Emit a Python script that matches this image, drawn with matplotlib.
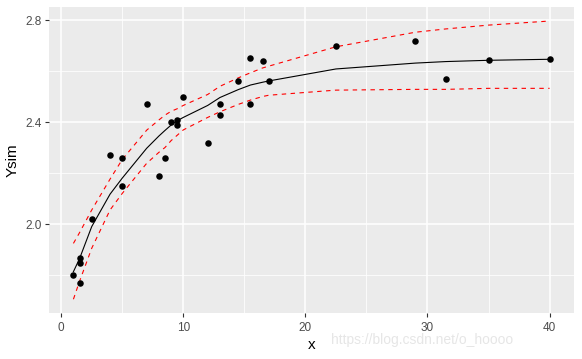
import matplotlib
matplotlib.use("Agg")
import matplotlib.pyplot as plt
import numpy as np

# observed data
x_obs = [1, 1.5, 1.5, 1.5, 2.5, 4, 5, 5, 7, 8, 8.5, 9, 9.5, 9.5, 10, 12, 13, 13,
         14.5, 15.5, 15.5, 16.5, 17, 22.5, 29, 31.5, 35, 40]
y_obs = [1.800, 1.865, 1.846, 1.767, 2.018, 2.269, 2.258, 2.148, 2.469, 2.187,
         2.258, 2.399, 2.407, 2.387, 2.497, 2.316, 2.469, 2.426, 2.560, 2.650,
         2.469, 2.638, 2.560, 2.697, 2.716, 2.567, 2.642, 2.646]

# fitted curve and bands at unique x
x_fit = [1, 1.5, 2.5, 4, 5, 7, 8, 8.5, 9, 9.5, 10, 12, 13, 14.5, 15.5, 16.5, 17,
         22.5, 29, 31.5, 35, 40]
y_fit = [1.813, 1.864, 1.990, 2.117, 2.180, 2.297, 2.345, 2.367, 2.388, 2.405,
         2.418, 2.465, 2.496, 2.527, 2.545, 2.556, 2.561, 2.608, 2.631, 2.637,
         2.642, 2.646]
y_upper = [1.924, 1.966, 2.055, 2.176, 2.253, 2.368, 2.408, 2.427, 2.442, 2.452,
           2.465, 2.508, 2.540, 2.573, 2.593, 2.612, 2.619, 2.695, 2.752, 2.765,
           2.780, 2.796]
y_lower = [1.705, 1.775, 1.905, 2.055, 2.120, 2.238, 2.281, 2.300, 2.327, 2.348,
           2.369, 2.418, 2.440, 2.469, 2.486, 2.500, 2.505, 2.525, 2.528, 2.528,
           2.532, 2.532]

x_ticks = [0, 10, 20, 30, 40]
y_ticks = [2.0, 2.4, 2.8]
y_tick_labels = ["2.0", "2.4", "2.8"]

plt.rcParams['font.family'] = ['Liberation Sans', 'DejaVu Sans']

fig = plt.figure(figsize=(5.82, 3.59), dpi=100)
ax = fig.add_axes([49/582, 46/359, 525/582, 306/359])
ax.set_facecolor('#EBEBEB')

ax.set_xlim(-1.0, 42.0)
ax.set_ylim(1.651, 2.851)

ax.set_xticks(x_ticks)
ax.set_xticks([5, 15, 25, 35], minor=True)
ax.set_yticks(y_ticks)
ax.set_yticklabels(y_tick_labels)
ax.set_yticks([1.8, 2.2, 2.6], minor=True)

ax.grid(which='major', color='white', linewidth=1.1)
ax.grid(which='minor', color='white', linewidth=0.55)
ax.set_axisbelow(True)
for s in ax.spines.values():
    s.set_visible(False)

ax.tick_params(which='major', length=3, width=0.8, color='#333333',
               labelcolor='#4D4D4D', labelsize=8.5)
ax.tick_params(axis='x', which='major', pad=3.5)
ax.tick_params(axis='y', which='major', pad=2)
ax.tick_params(which='minor', length=0)

ax.plot(x_fit, y_upper, color='red', lw=0.8, dashes=(4, 4))
ax.plot(x_fit, y_lower, color='red', lw=0.8, dashes=(4, 4))
ax.plot(x_fit, y_fit, color='black', lw=0.8)
ax.scatter(x_obs, y_obs, s=22, color='black', zorder=3, linewidths=0)

ax.set_xlabel('x', fontsize=11, labelpad=3)
ax.set_ylabel('Ysim', fontsize=11, labelpad=4)

fig.text(513/582, 1 - 340/359, 'https://blog.csdn.net/o_hoooo', ha='right',
         va='center', fontsize=10, color='#E6E6E6')

fig.savefig('out.png', dpi=100)
